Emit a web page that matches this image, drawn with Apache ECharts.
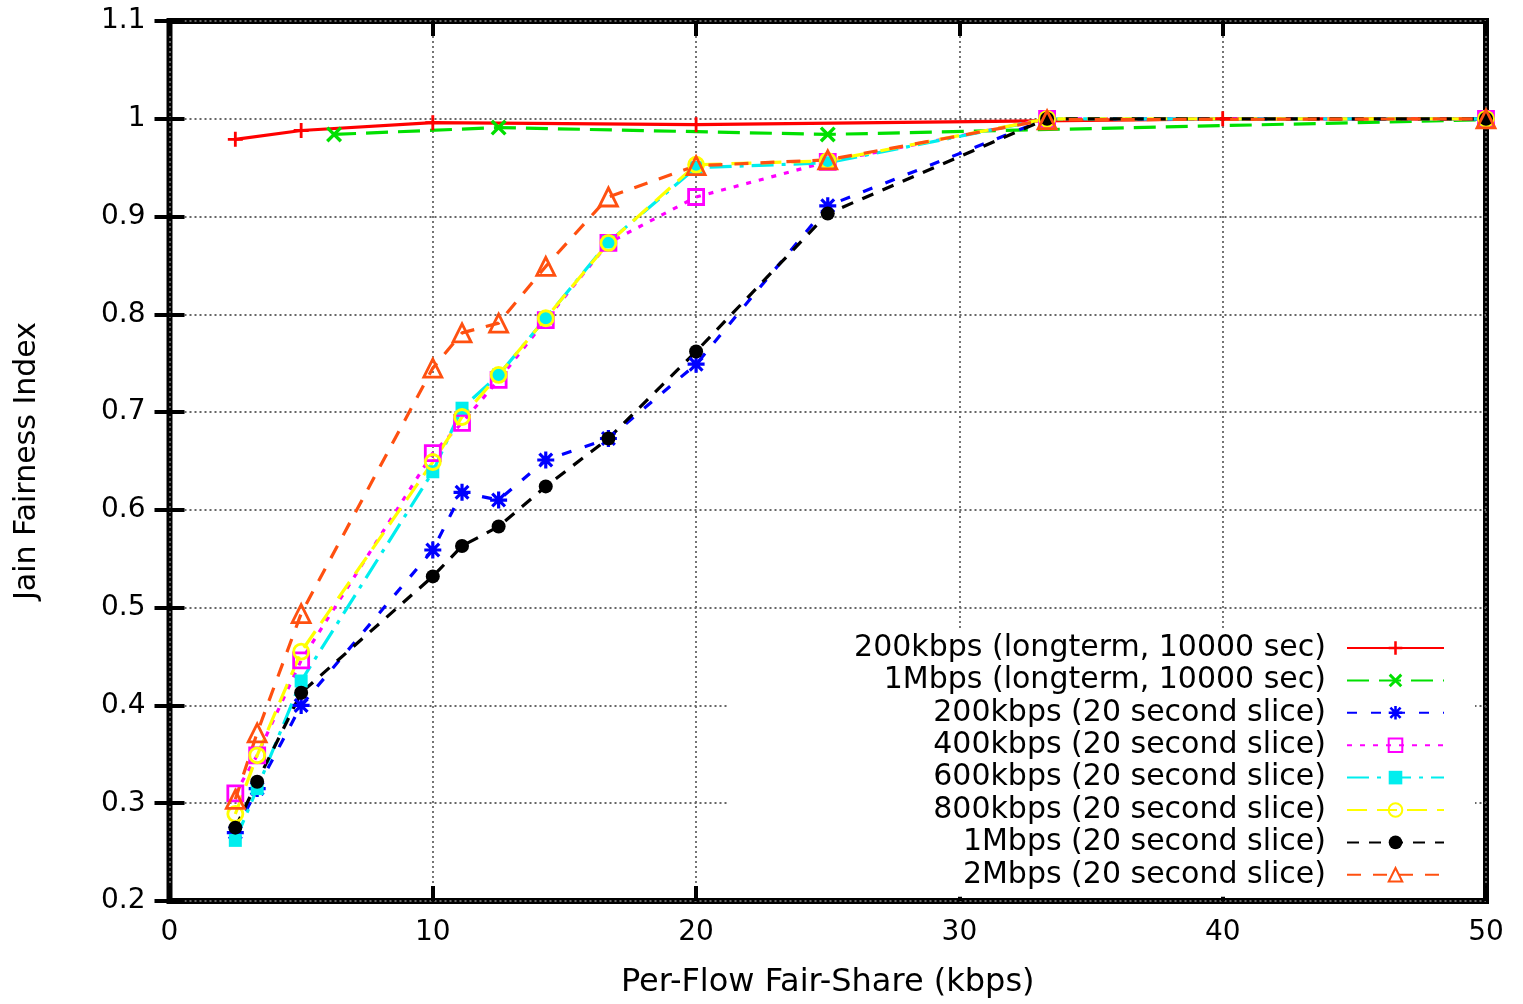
<!DOCTYPE html>
<html>
<head>
<meta charset="utf-8">
<script src="https://cdn.jsdelivr.net/npm/echarts@6/dist/echarts.min.js"></script>
<style>
  html, body { margin: 0; padding: 0; background: #fff; }
  #chart { width: 1523px; height: 1004px; }
</style>
</head>
<body>
<div id="chart"></div>
<script>
// per-flow fair share (kbps) for the 20 second slice runs
const sliceX = [2.5, 3.33, 5, 10, 11.11, 12.5, 14.29, 16.67, 20, 25, 33.33, 50];
// longterm runs
const long200X = [2.5, 5, 10, 20, 40, 50];
const long200Y = [0.979, 0.988, 0.996, 0.994, 1.0, 1.0];
const long1MX = [6.25, 12.5, 25, 50];
const long1MY = [0.984, 0.991, 0.984, 0.999];
// 20 second slices
const s200Y = [0.27, 0.315, 0.40, 0.559, 0.618, 0.61, 0.651, 0.673, 0.749, 0.911, 1.0, 1.0];
const s400Y = [0.31, 0.349, 0.446, 0.658, 0.689, 0.733, 0.794, 0.873, 0.920, 0.956, 1.0, 1.0];
const s600Y = [0.262, 0.315, 0.425, 0.639, 0.704, 0.738, 0.796, 0.874, 0.95, 0.955, 1.0, 1.0];
const s800Y = [0.289, 0.349, 0.455, 0.649, 0.695, 0.738, 0.796, 0.873, 0.953, 0.957, 1.0, 1.0];
const s1MY = [0.275, 0.322, 0.413, 0.532, 0.563, 0.583, 0.624, 0.673, 0.762, 0.903, 1.0, 1.0];
const s2MY = [0.304, 0.372, 0.494, 0.745, 0.781, 0.791, 0.849, 0.920, 0.952, 0.958, 0.999, 1.0];

const names = [
  '200kbps (longterm, 10000 sec)',
  '1Mbps (longterm, 10000 sec)',
  '200kbps (20 second slice)',
  '400kbps (20 second slice)',
  '600kbps (20 second slice)',
  '800kbps (20 second slice)',
  '1Mbps (20 second slice)',
  '2Mbps (20 second slice)'
];

function pairs(xs, ys) {
  return xs.map((x, i) => [x, ys[i]]);
}

// gnuplot style point shapes
const plusPath = 'path://M-1.5,-8H1.5V-1.5H8V1.5H1.5V8H-1.5V1.5H-8V-1.5H-1.5Z';
const crossPath = 'path://M-4.94,-7.06L7.06,4.94L4.94,7.06L-7.06,-4.94Z' +
  'M-7.06,4.94L4.94,-7.06L7.06,-4.94L-4.94,7.06Z';
const starPath = 'path://M-1.5,-8H1.5V-1.5H8V1.5H1.5V8H-1.5V1.5H-8V-1.5H-1.5Z' +
  'M-4.94,-7.06L7.06,4.94L4.94,7.06L-7.06,-4.94Z' +
  'M-7.06,4.94L4.94,-7.06L7.06,-4.94L-4.94,7.06Z';

const font = 'DejaVu Sans';

function line(name, data, color, dash, symbol, size, open) {
  return {
    name: name,
    type: 'line',
    data: data,
    symbol: symbol,
    symbolSize: size,
    showAllSymbol: true,
    lineStyle: { color: color, width: 3.2, type: dash },
    itemStyle: open
      ? { color: 'rgba(255,255,255,0)', borderColor: color, borderWidth: 2.8 }
      : { color: color },
    emphasis: { disabled: true }
  };
}

let myChart = echarts.init(document.getElementById('chart'));
let option = {
  animation: false,
  backgroundColor: '#fff',
  grid: {
    show: true,
    left: 169.5,
    right: 37,
    top: 21,
    bottom: 101,
    borderColor: '#000',
    borderWidth: 6,
    backgroundColor: 'transparent'
  },
  legend: {
    orient: 'vertical',
    align: 'right',
    right: 48,
    top: 628,
    padding: [4, 30, 6, 127],
    backgroundColor: '#fff',
    itemWidth: 97,
    itemHeight: 17,
    itemGap: 0.4,
    selectedMode: false,
    textStyle: {
      fontFamily: font,
      fontSize: 30,
      color: '#000',
      lineHeight: 32,
      padding: [0, 16, 0, 0]
    },
    data: names
  },
  xAxis: [
    {
      type: 'value',
      min: 0,
      max: 50,
      interval: 10,
      position: 'bottom',
      name: 'Per-Flow Fair-Share (kbps)',
      nameLocation: 'middle',
      nameGap: 66,
      nameTextStyle: { fontFamily: font, fontSize: 32, color: '#000' },
      axisLine: { show: false },
      axisTick: { show: true, inside: true, length: 15, lineStyle: { color: '#000', width: 4 } },
      axisLabel: { fontFamily: font, fontSize: 28, color: '#000', margin: 18 },
      splitLine: { show: true, lineStyle: { color: '#666', width: 1.8, type: [2, 3] } }
    },
    {
      type: 'value',
      min: 0,
      max: 50,
      interval: 10,
      position: 'top',
      axisLine: { show: false },
      axisTick: { show: true, inside: true, length: 15, lineStyle: { color: '#000', width: 4 } },
      axisLabel: { show: false },
      splitLine: { show: false }
    }
  ],
  yAxis: [
    {
      type: 'value',
      min: 0.2,
      max: 1.1,
      interval: 0.1,
      position: 'left',
      name: 'Jain Fairness Index',
      nameLocation: 'middle',
      nameGap: 127,
      nameTextStyle: { fontFamily: font, fontSize: 30, color: '#000' },
      axisLine: { show: false },
      axisTick: { show: true, inside: true, length: 15, lineStyle: { color: '#000', width: 4 } },
      axisLabel: { fontFamily: font, fontSize: 28, color: '#000', margin: 24 },
      splitLine: { show: true, lineStyle: { color: '#666', width: 1.8, type: [2, 3] } }
    },
    {
      type: 'value',
      min: 0.2,
      max: 1.1,
      interval: 0.1,
      position: 'right',
      axisLine: { show: false },
      axisTick: { show: true, inside: true, length: 15, lineStyle: { color: '#000', width: 4 } },
      axisLabel: { show: false },
      splitLine: { show: false }
    }
  ],
  series: [
    line(names[0], pairs(long200X, long200Y), '#ff0000', 'solid', plusPath, 15, false),
    line(names[1], pairs(long1MX, long1MY), '#00e000', [22, 10], crossPath, 16, false),
    line(names[2], pairs(sliceX, s200Y), '#0000ff', [10, 14], starPath, 17, false),
    line(names[3], pairs(sliceX, s400Y), '#ff00ff', [5, 8], 'rect', 15, true),
    line(names[4], pairs(sliceX, s600Y), '#00eeee', [22, 8, 4, 8], 'rect', 13, false),
    line(names[5], pairs(sliceX, s800Y), '#ffff00', [20, 10], 'circle', 15, true),
    line(names[6], pairs(sliceX, s1MY), '#000000', [12, 10], 'circle', 14, false),
    line(names[7], pairs(sliceX, s2MY), '#ff5010', [14, 12], 'triangle', 18, true)
  ]
};
myChart.setOption(option);
</script>
</body>
</html>
